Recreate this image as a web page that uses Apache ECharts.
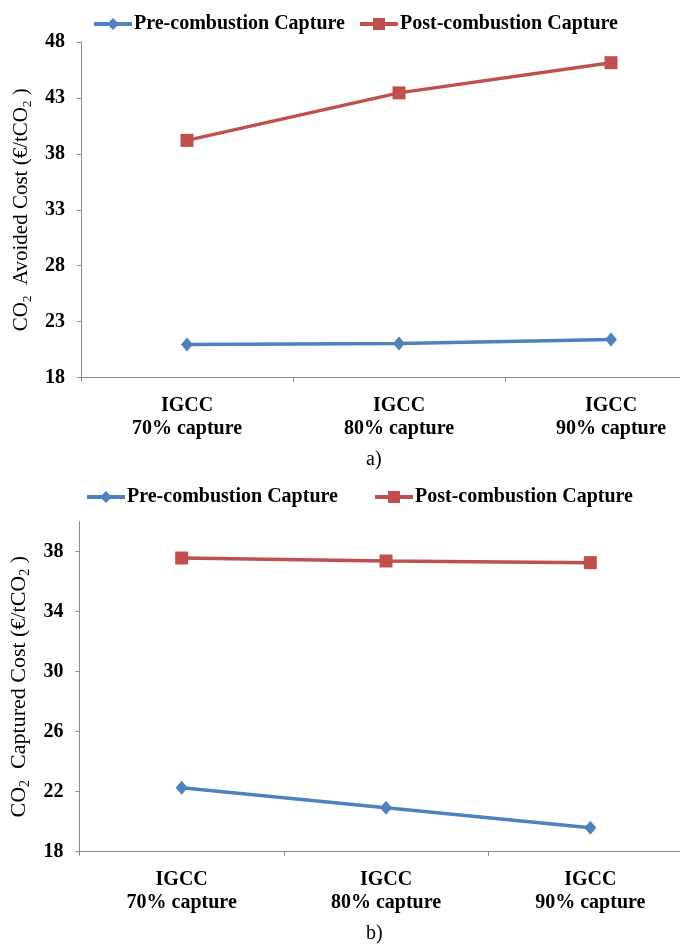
<!DOCTYPE html>
<html>
<head>
<meta charset="utf-8">
<script src="https://cdn.jsdelivr.net/npm/echarts@6/dist/echarts.min.js"></script>
<style>
html,body{margin:0;padding:0;background:#fff;overflow:hidden;width:680px;height:947px;}
#chart{width:760px;height:947px;}
</style>
</head>
<body>
<div id="chart"></div>
<script>
// ---- data ----
var categories = ['IGCC\n70% capture', 'IGCC\n80% capture', 'IGCC\n90% capture'];
var seriesNames = ['Pre-combustion Capture', 'Post-combustion Capture'];
// a) CO2 avoided cost (€/tCO2)
var avoidedPre = [20.96, 21.05, 21.4];
var avoidedPost = [39.2, 43.45, 46.15];
// b) CO2 captured cost (€/tCO2)
var capturedPre = [22.27, 20.93, 19.6];
var capturedPost = [37.58, 37.38, 37.27];
// tick labels
var avoidedTicks = [18, 23, 28, 33, 38, 43, 48];
var capturedTicks = [18, 22, 26, 30, 34, 38];
var captions = ['a)', 'b)'];

var FONT = 'Liberation Serif';
var AXIS_COLOR = '#8a8a8a';
var BLUE = '#4F81BD';
var RED = '#C0504D';

function yAxisCfg(gridIndex, min, max, ticks, nameText, nameSize, nameGap) {
  return {
    type: 'value', gridIndex: gridIndex, min: min, max: max,
    name: nameText, nameLocation: 'middle', nameGap: nameGap,
    nameTextStyle: {
      rich: {
        n: {fontFamily: FONT, fontSize: nameSize, color: '#000', lineHeight: nameSize + 4, verticalAlign: 'middle'},
        s: {fontFamily: FONT, fontSize: Math.round(nameSize * 0.62), color: '#000', lineHeight: Math.round(nameSize * 0.62), verticalAlign: 'bottom'}
      }
    },
    axisLine: {show: true, lineStyle: {color: AXIS_COLOR, width: 1}},
    axisTick: {show: true, length: 4, inside: false, customValues: ticks, lineStyle: {color: AXIS_COLOR}},
    axisLabel: {customValues: ticks, margin: 16, fontFamily: FONT, fontSize: 20, fontWeight: 'bold', color: '#000'},
    splitLine: {show: false}
  };
}
function xAxisCfg(gridIndex) {
  return {
    type: 'category', gridIndex: gridIndex, data: categories, boundaryGap: true,
    axisLine: {show: true, lineStyle: {color: AXIS_COLOR, width: 1}},
    axisTick: {show: true, length: 4, alignWithLabel: false, lineStyle: {color: AXIS_COLOR}},
    axisLabel: {margin: 17, fontFamily: FONT, fontSize: 20, fontWeight: 'bold', color: '#000', lineHeight: 23, interval: 0}
  };
}
function lineSeries(name, data, idx, color, symbol, size) {
  return {
    name: name, type: 'line', xAxisIndex: idx, yAxisIndex: idx, data: data,
    symbol: symbol, symbolSize: size, showSymbol: true,
    lineStyle: {color: color, width: 3.5},
    itemStyle: {color: color},
    emphasis: {disabled: true}, animation: false
  };
}
function legendCfg(name, left, top) {
  return {
    data: [name], left: left, top: top, itemWidth: 38, itemHeight: 15, itemGap: 0,
    lineStyle: {width: 4},
    textStyle: {fontFamily: FONT, fontSize: 20, fontWeight: 'bold', color: '#000', padding: [0, 0, 0, -3]}
  };
}

var chart = echarts.init(document.getElementById('chart'), null, {renderer: 'canvas'});
chart.setOption({
  backgroundColor: '#ffffff',
  animation: false,
  legend: [
    legendCfg(seriesNames[0], 87, 9),
    legendCfg(seriesNames[1], 353, 9),
    legendCfg(seriesNames[0], 80, 482),
    legendCfg(seriesNames[1], 368, 482)
  ],
  grid: [
    {left: 81, top: 42, width: 636, height: 335.5, containLabel: false},
    {left: 79.5, top: 521.7, width: 613, height: 330, containLabel: false}
  ],
  xAxis: [xAxisCfg(0), xAxisCfg(1)],
  yAxis: [
    yAxisCfg(0, 18, 48, avoidedTicks, '{n|CO}{s|2}{n|  Avoided Cost (€/tCO}{s|2}{n| )}', 21, 36),
    yAxisCfg(1, 18, 40, capturedTicks, '{n|CO}{s|2}{n|  Captured Cost (€/tCO}{s|2}{n| )}', 22, 40)
  ],
  series: [
    lineSeries(seriesNames[0], avoidedPre, 0, BLUE, 'diamond', [12, 14]),
    lineSeries(seriesNames[1], avoidedPost, 0, RED, 'rect', 13),
    lineSeries(seriesNames[0], capturedPre, 1, BLUE, 'diamond', [12, 14]),
    lineSeries(seriesNames[1], capturedPost, 1, RED, 'rect', 13)
  ],
  graphic: [
    {type: 'text', left: 366, top: 450, style: {text: captions[0], font: '20px "Liberation Serif"', fill: '#000'}},
    {type: 'text', left: 366, top: 924, style: {text: captions[1], font: '20px "Liberation Serif"', fill: '#000'}}
  ]
});
</script>
</body>
</html>
